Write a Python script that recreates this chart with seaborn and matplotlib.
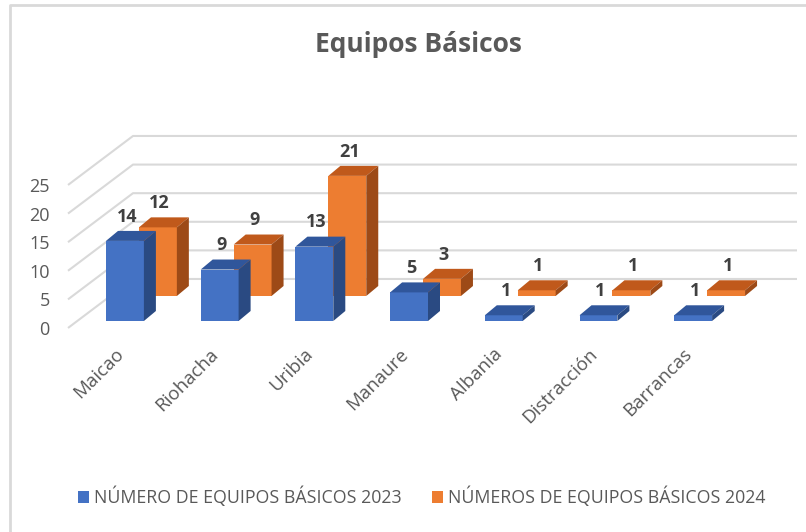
import pandas as pd
import matplotlib.pyplot as plt
from matplotlib.patches import Polygon, Patch
from matplotlib.lines import Line2D
import seaborn as sns

# ============================================
# Equipos Básicos 2023 vs 2024 (pseudo 3D columns)
# ============================================

municipios = ["Maicao", "Riohacha", "Uribia", "Manaure", "Albania", "Distracción", "Barrancas"]
equipos_2023 = [14, 9, 13, 5, 1, 1, 1]
equipos_2024 = [12, 9, 21, 3, 1, 1, 1]
series = ["NÚMERO DE EQUIPOS BÁSICOS 2023", "NÚMEROS DE EQUIPOS BÁSICOS 2024"]
y_ticks = [0, 5, 10, 15, 20, 25]

df = pd.DataFrame({"municipio": municipios, series[0]: equipos_2023, series[1]: equipos_2024})
long_df = df.melt(id_vars="municipio", var_name="serie", value_name="equipos")

# colours: front / top / side
BLUE = ["#4472C4", "#30569B", "#2A4A82"]
ORANGE = ["#ED7D31", "#C0591B", "#9D4A17"]
GRID = "#D9D9D9"
TEXT = "#595959"

# "3D" geometry (pixels -> data units)
W, H = 806, 532
PX_CAT, PX_UNIT = 94.7, 5.72       # px per category, px per value unit
X0, Y0 = 143.9, 321                # px of x=0 and value=0
DEPTH_X, DEPTH_Y = 12 / PX_CAT, 10 / PX_UNIT       # bar depth
LIFT_X, LIFT_Y = -0.052, 25 / PX_UNIT              # second row shift
FRONT_X, FRONT_DY = (68 - X0) / PX_CAT, -1.22      # front edge of floor
WALL_X, WALL_DY = 65 / PX_CAT, 49 / PX_UNIT        # back wall offset
RIGHT_X = (797 - X0) / PX_CAT


def px_x(p):
    return (p - X0) / PX_CAT


def px_y(p):
    return (Y0 - p) / PX_UNIT


sns.set_theme(style="white")
plt.rcParams["font.family"] = ["Open Sans", "DejaVu Sans"]

fig = plt.figure(figsize=(W / 100, H / 100), dpi=100)
ax_l, ax_r, ax_b, ax_t = 58, 800, 332, 100
ax = fig.add_axes([ax_l / W, 1 - ax_b / H, (ax_r - ax_l) / W, (ax_b - ax_t) / H])

sns.barplot(data=long_df, x="municipio", y="equipos", hue="serie", hue_order=series,
            palette=[BLUE[0], ORANGE[0]], width=0.8, dodge=True, ax=ax, legend=False,
            linewidth=0, saturation=1)
ax.set_xlim(px_x(ax_l), px_x(ax_r))
ax.set_ylim(px_y(ax_b), px_y(ax_t))

# gridlines: diagonal on the side wall, horizontal on the back wall
for v in y_ticks:
    yf = v + FRONT_DY
    yb = yf + WALL_DY
    ax.plot([FRONT_X, FRONT_X + WALL_X, RIGHT_X], [yf, yb, yb], color=GRID, lw=1.5,
            zorder=0, solid_capstyle="butt")

# faces for each bar
for cont, cols, z, row in [(ax.containers[1], ORANGE, 2, 1), (ax.containers[0], BLUE, 4, 0)]:
    for bar in cont:
        if row == 1:
            bar.set_x(bar.get_x() + LIFT_X)
            bar.set_y(LIFT_Y)
        bar.set_zorder(z)
        x0, y0 = bar.get_x(), bar.get_y()
        w, h = bar.get_width(), bar.get_height()
        top = [(x0, y0 + h), (x0 + w, y0 + h), (x0 + w + DEPTH_X, y0 + h + DEPTH_Y),
               (x0 + DEPTH_X, y0 + h + DEPTH_Y)]
        side = [(x0 + w, y0), (x0 + w + DEPTH_X, y0 + DEPTH_Y),
                (x0 + w + DEPTH_X, y0 + h + DEPTH_Y), (x0 + w, y0 + h)]
        ax.add_patch(Polygon(top, closed=True, fc=cols[1], ec="none", zorder=z))
        ax.add_patch(Polygon(side, closed=True, fc=cols[2], ec="none", zorder=z))
        ax.text(x0 + w / 2 + 0.02, y0 + h + DEPTH_Y + 0.9, f"{int(round(h))}",
                ha="center", va="bottom", fontsize=13, fontweight="bold",
                color="#404040", zorder=6)

# axis ticks sit on the front edge
ax.set_yticks([v + FRONT_DY for v in y_ticks])
ax.set_yticklabels([str(v) for v in y_ticks], fontsize=13, color=TEXT)
ax.set_xticks([i + px_x(121) for i in range(len(municipios))])
ax.set_xticklabels(municipios, rotation=45, ha="right", va="center",
                   rotation_mode="anchor", fontsize=13.5, color=TEXT)
ax.tick_params(axis="y", length=0, pad=6)
ax.tick_params(axis="x", length=0, pad=14)
ax.set_xlabel("")
ax.set_ylabel("")
sns.despine(ax=ax, left=True, bottom=True)
ax.patch.set_alpha(0)

# title
fig.text(418 / W, 1 - 45 / H, "Equipos Básicos", ha="center", va="center",
         fontsize=19, fontweight="bold", color=TEXT)

# legend
handles = [Patch(fc=BLUE[0], ec="none"), Patch(fc=ORANGE[0], ec="none")]
fig.legend(handles, series, loc="center", bbox_to_anchor=(422 / W, 1 - 497 / H), ncol=2,
           frameon=False, handlelength=0.6, handleheight=0.6, handletextpad=0.3,
           columnspacing=1.7, fontsize=12.8, labelcolor=TEXT)

# chart area border (top and left edge)
fig.add_artist(Line2D([10 / W, 10 / W, 1], [0, 1 - 5 / H, 1 - 5 / H],
                      transform=fig.transFigure, color=GRID, lw=2))

fig.savefig("out.png", dpi=100)
